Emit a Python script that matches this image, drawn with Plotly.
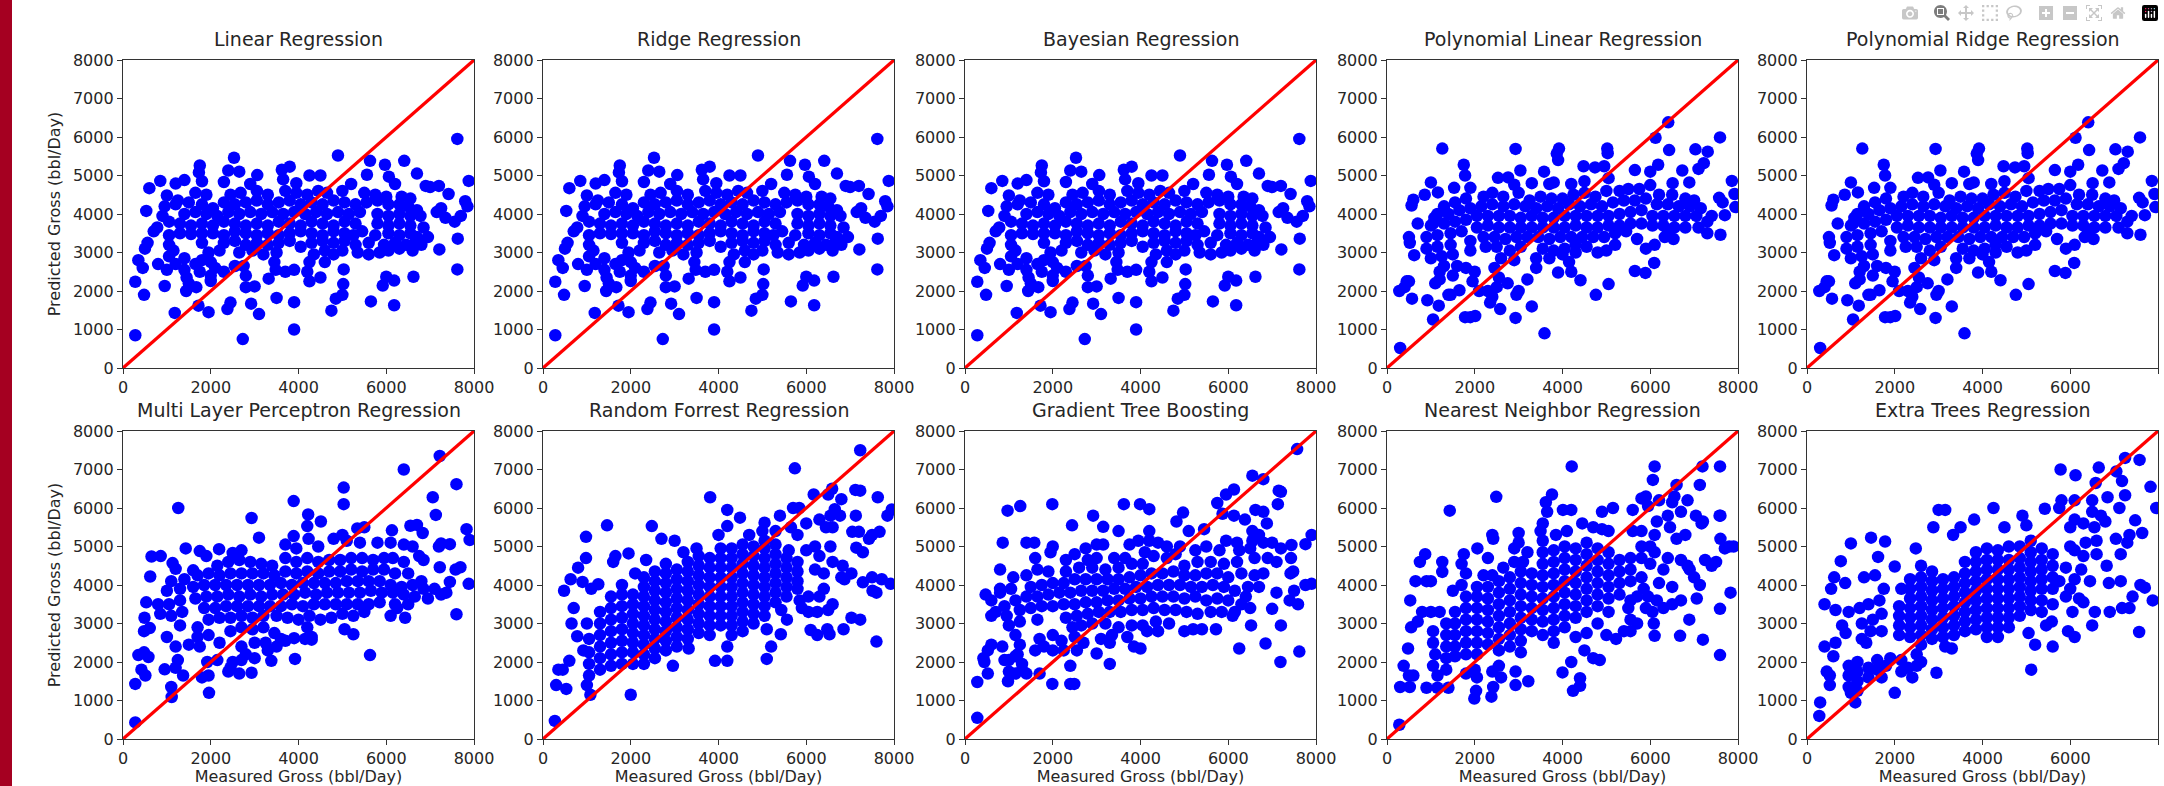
import plotly.graph_objects as go

W, H = 2164, 786
panel_lefts = [123, 543, 965, 1387, 1807]
panel_width = 351
row_tops = [60, 431]
panel_height = 308

linear_points = [
(7620,5950),(4900,5520),(2530,5460),(5630,5380),(5970,5280),(6410,5380),(1750,5260),(1730,5080),(2400,5130),(2650,5100),(3620,5150),(3800,5230),(3060,5010),(6700,5050),(7880,4860),(5560,5020),(6060,4970),(6200,4780),(850,4860),(600,4670),(1200,4790),(1400,4880),(1800,4850),(2300,4830),(4250,5000),(4500,5000),(3650,4900),(3950,4800),(2900,4780),(5200,4780),(7200,4730),(6900,4730),(7000,4700),(7420,4520),(7800,4330),(7850,4200),(530,4080),(7700,3950),(7560,3800),(7630,3360),(7210,3080),(6950,3400),(6800,3200),(7620,2560),(6620,2370),(6180,2270),(6000,2370),(5920,2140),(5030,2560),(5020,2180),(5000,1900),(4850,1800),(5650,1730),(6180,1630),(4750,1490),(3500,1820),(3900,1710),(2450,1700),(2380,1530),(1950,1450),(1720,1620),(1180,1430),(2920,1670),(3100,1400),(280,850),(2730,750),(3900,1000),(480,1900),(280,2240),(950,2130),(1440,2000),(1670,2100),(1500,2200),(2000,2260),(2800,2100),(3000,2120),(4250,2250),(4500,2350),(3320,2320),(3480,2550),(3700,2500),(3900,2550),(4200,2500),(2300,2500),(2550,2650),(2000,2400),(350,2800),(450,2600),(800,2700),(1000,2550),(1400,2850),(1650,2700),(500,3100),(560,3250),(700,3550),(1050,2900),
(1000,4480),(1250,4350),(1650,4550),(1900,4500),(2450,4500),(2680,4550),(3050,4600),(3300,4500),(3700,4600),(3950,4550),(4200,4500),(4450,4600),(4650,4550),(5000,4600),(5500,4550),(5750,4500),(6000,4450),(6350,4450),(6550,4400),
(950,4200),(1200,4250),(1500,4300),(1800,4250),(2050,4150),(2300,4300),(2550,4250),(2800,4300),(3050,4350),(3300,4250),(3550,4300),(3800,4350),(4050,4250),(4300,4300),(4550,4250),(4800,4350),(5050,4300),(5300,4250),(5550,4300),(5800,4350),(6050,4250),(6300,4250),(6500,4200),(6700,4100),
(900,3950),(1400,4000),(1650,4050),(1900,4000),(2150,3950),(2400,4050),(2650,4000),(2900,4050),(3150,4000),(3400,4050),(3650,4000),(3900,4050),(4150,4000),(4400,4050),(4650,4000),(4900,4050),(5150,4000),(5400,4050),(5800,4000),(6050,3950),(6300,4000),(6550,3950),(6780,3950),(7150,4050),(7250,4150),(7350,3900),
(780,3650),(1050,3800),(1300,3750),(1550,3700),(1800,3750),(2050,3700),(2300,3800),(2550,3750),(2800,3700),(3050,3750),(3300,3700),(3550,3800),(3800,3750),(4050,3700),(4300,3800),(4550,3750),(4800,3700),(5050,3800),(5300,3750),(5800,3750),(6050,3700),(6300,3750),(6550,3700),(6850,3650),
(1050,3450),(1300,3500),(1550,3480),(1800,3500),(2050,3500),(2300,3450),(2550,3550),(2800,3500),(3050,3450),(3300,3500),(3550,3450),(3800,3500),(4050,3550),(4300,3500),(4550,3450),(4800,3550),(5050,3500),(5250,3450),(5450,3550),(5750,3450),(6050,3500),(6300,3450),(6550,3500),(6700,3400),
(1050,3200),(1150,3050),(1800,3250),(2300,3250),(2550,3300),(2800,3200),(3050,3250),(3300,3200),(3550,3250),(3800,3300),(4050,3150),(4300,3250),(4550,3300),(4800,3250),(5050,3300),(5300,3200),(5600,3250),(5950,3200),(6200,3250),(6450,3200),(6650,3250),
(1950,3000),(2200,3050),(2650,3000),(2950,3050),(3200,2950),(3500,3000),(4350,2950),(4600,3050),(4800,2950),(5000,3050),(5350,3000),(5600,2950),(5850,3000),(6050,3050),(6300,3100),(6600,3050),(3450,2750),(1800,2800),(2100,2600),(2800,2400),(2750,2650),(1200,2700),(1400,2550),(1750,2500),(1450,2350),(4600,2750),(4250,2750),(2000,2750),
]
ridge_points = linear_points
bayesian_points = linear_points

poly_linear_points = [
(1260,5700),(2930,5690),(3920,5700),(3870,5570),(3900,5400),(5020,5700),(5030,5580),(6410,6380),(6120,5980),(6430,5660),(7590,5990),(7030,5680),(7310,5620),(7220,5320),(7100,5170),(1750,5280),(1780,5000),(3040,5130),(3580,5100),(2530,4940),(2760,4950),(4480,5240),(4740,5210),(4950,5240),(5050,4930),(5650,5140),(6180,5280),(6000,5100),(6730,5130),(6890,4820),(6510,4800),(7860,4860),(7920,4520),(7570,4420),(7650,4300),(7940,4180),(7700,3970),(7600,3460),(7300,3500),(1900,4680),(1530,4680),(1000,4820),(1160,4560),(860,4500),(600,4370),(560,4220),(2900,4760),(3300,4800),(3700,4780),(3800,4820),(4200,4780),(4500,4850),(500,3400),(520,3250),(620,2930),(700,3750),(1050,3750),(1080,3900),(450,2250),(500,2250),(280,2000),(400,2100),(570,1800),(920,1760),(1180,1620),(1050,1260),(1780,1320),(1900,1320),(2010,1350),(2930,1300),(3300,1600),(3590,900),(4760,1900),(5050,2180),(4410,2280),(4200,2500),(3900,2480),(5650,2520),(5890,2470),(6090,2730),(2580,1530),(2350,1700),(300,520),(2950,1900),(3000,2000),(2750,2200),(2400,1850),(3200,2300),(1400,1900),(1450,1900),(1650,2020),(1100,2200),(1200,2500),(2100,2000),(2300,2000),(2500,2100),(2450,2600),(3400,2600),(2000,2500),(5900,3100),(5700,3350),(6100,3200),(6330,3400),(6530,3350),(5200,3200),(4800,3000),(5000,3050),(4300,3000),(4150,2750),
(1300,4200),(1550,4300),(1800,4400),(2200,4450),(2400,4550),(2650,4450),(3000,4550),(3250,4350),(3500,4450),(3750,4400),(4000,4400),(4250,4500),(4500,4550),(4750,4450),(5000,4600),(5300,4600),(5500,4650),(5750,4650),(6000,4750),(6200,4500),(6500,4500),(6800,4400),(7000,4350),
(1150,4000),(1400,4000),(1650,4100),(1900,4150),(2150,4200),(2400,4250),(2650,4200),(2900,4250),(3150,4200),(3400,4150),(3650,4200),(3900,4150),(4150,4250),(4400,4200),(4650,4250),(4900,4200),(5150,4300),(5400,4350),(5650,4350),(5900,4400),(6150,4250),(6400,4250),(6650,4200),(6900,4200),(7150,4150),(7400,3950),
(1000,3700),(1300,3750),(1550,3800),(1800,3850),(2050,3950),(2300,3950),(2550,3950),(2800,3950),(3050,3900),(3300,3950),(3550,3900),(3800,3900),(4050,3950),(4300,3950),(4550,3950),(4800,3950),(5050,3950),(5300,4000),(5550,4050),(5800,4100),(6050,3950),(6300,3950),(6550,3950),(6800,3950),(7050,3950),(7300,3800),
(900,3400),(1150,3450),(1450,3500),(1700,3550),(2050,3650),(2300,3700),(2550,3650),(2800,3650),(3050,3650),(3300,3650),(3550,3650),(3800,3650),(4050,3650),(4300,3700),(4550,3650),(4800,3650),(5050,3700),(5300,3700),(5550,3750),(5800,3750),(6050,3700),(6300,3700),(6550,3650),(6800,3650),(7100,3650),
(900,3100),(1150,3150),(1450,3200),(1900,3300),(2200,3400),(2450,3400),(2700,3350),(2950,3400),(3200,3400),(3450,3400),(3700,3350),(3950,3400),(4200,3400),(4450,3400),(4700,3400),(4950,3400),(5200,3500),(5450,3550),(6400,3600),
(1000,2850),(1250,2900),(1500,2950),(1900,3050),(2250,3150),(2500,3150),(2800,3050),(3050,3150),(3550,3100),(3800,3050),(4050,3100),(4300,3200),(4550,3150),(1200,2300),(1500,2400),(1800,2600),(1600,2650),(2600,2850),(2900,2800),(3400,2850),(3700,2850),(4000,2950),(1300,2650),(1950,2250),(2550,2350),
]
poly_ridge_points = poly_linear_points

mlp_points = [
(7220,7350),(6400,7000),(5030,6530),(5030,6100),(7600,6620),(7060,6280),(7130,5820),(3890,6180),(1260,6000),(2930,5740),(4220,5830),(4200,5530),(4510,5650),(3100,5230),(3890,5270),(4230,5200),(5340,5470),(5500,5500),(6130,5420),(6550,5540),(6700,5560),(6830,5350),(7830,5450),(7900,5170),(7200,5000),(7250,5080),(7450,5060),(6850,4650),(7220,4460),(7690,4460),(7580,4400),(7450,4080),(7880,4030),(7370,3800),(7600,3240),(6430,3150),(6100,3200),(6250,3400),(5250,2720),(5050,2850),(5630,2180),(3920,2080),(3380,2030),(2930,1720),(1960,1200),(1100,1350),(1110,1090),(280,1430),(280,430),(1370,1650),(1200,1850),(950,1810),(1250,2050),(420,1800),(510,1650),(350,2180),(480,2250),(580,2130),(480,2800),(610,2880),(490,3150),(530,3550),(620,4220),(650,4740),(860,4750),(1130,4570),(1200,4420),(1430,4950),(1750,4880),(1900,4750),(2190,4930),(2700,4900),(2500,4830),(1600,4380),(2500,2000),(2650,1700),(2400,1750),(1950,1650),(1800,1600),(1920,2000),(2150,2050),(2450,1850),(2700,2050),(3000,2100),(2800,2200),(3300,2300),(3500,2400),(3600,2600),(3900,2620),(4150,2600),(4300,2580),
(3700,5050),(3950,4950),(4450,5000),(4800,5200),(5100,5150),(5400,5100),(5800,5100),(6100,5100),(6400,5050),(6600,5000),(6750,4750),(5000,5300),
(2150,4500),(2400,4600),(2650,4650),(2900,4600),(3150,4550),(3400,4500),(3700,4700),(3950,4600),(4200,4700),(4450,4600),(4700,4650),(4950,4650),(5200,4700),(5450,4700),(5700,4650),(5950,4700),(6150,4700),(6400,4600),
(1100,4100),(1400,4150),(1700,4250),(1950,4300),(2200,4250),(2450,4300),(2700,4300),(2950,4300),(3200,4300),(3450,4250),(3700,4350),(3950,4300),(4200,4350),(4450,4300),(4700,4350),(4950,4350),(5200,4400),(5450,4350),(5700,4400),(5950,4400),(6200,4300),(6500,4300),(6800,4100),
(1000,3850),(1300,3900),(1600,3950),(1850,4000),(2100,4000),(2350,4000),(2600,4000),(2850,4000),(3100,4000),(3350,4000),(3600,4050),(3850,4000),(4100,4050),(4350,4050),(4600,4050),(4850,4050),(5100,4100),(5350,4100),(5600,4100),(5850,4100),(6100,4000),(6350,3950),(6600,4000),(6850,3900),(7100,3900),(7250,3750),
(800,3500),(1050,3500),(1300,3600),(1650,3650),(1900,3700),(2150,3700),(2400,3750),(2650,3700),(2900,3750),(3150,3700),(3400,3750),(3650,3750),(3900,3750),(4150,3800),(4400,3750),(4650,3800),(4900,3800),(5150,3800),(5400,3800),(5650,3850),(5900,3800),(6150,3800),(6400,3750),(6650,3700),(6950,3650),
(850,3250),(1100,3200),(1350,3300),(1850,3400),(2100,3400),(2350,3450),(2600,3450),(2850,3450),(3100,3450),(3350,3450),(3600,3450),(3850,3500),(4100,3450),(4350,3500),(4600,3500),(4850,3500),(5100,3500),(5350,3500),(5600,3500),(5850,3550),(6200,3500),(6500,3500),
(1300,2950),(1700,2900),(1950,3100),(2200,3150),(2450,3150),(2700,3200),(2950,3150),(3200,3200),(3500,3200),(3750,3150),(4000,3100),(4250,3200),(4500,3100),(4750,3150),(5000,3250),(5250,3200),(5500,3300),
(1000,2650),(1200,2400),(1500,2450),(1700,2650),(1950,2700),(2200,2500),(2450,2800),(2700,2900),(2950,2850),(3200,2900),(3450,2750),(4200,2900),(4300,2650),(3700,2550),(2700,2400),(3000,2500),(3250,2500),(1750,2400),
]

forest_points = [
(7230,7500),(5740,7030),(3810,6280),(4200,5950),(4490,5750),(2480,5530),(1460,5550),(980,5250),(7630,6280),(7230,6450),(7120,6470),(6590,6500),(6170,6350),(6500,6350),(6800,6230),(7130,5800),(7950,5960),(7850,5800),(7200,5380),(7050,5380),(7500,5300),(7670,5380),(7430,5200),(6650,5970),(6550,5800),(6770,5800),(6450,5500),(5840,6000),(5700,6000),(5400,5800),(5050,5620),(4700,5300),(4200,5530),(4000,5300),(2700,5200),(3000,5150),(3200,4850),(3500,4950),(980,4700),(800,4450),(1650,4750),(1950,4820),(1600,4600),(2100,4300),(2350,4650),(630,4150),(480,3850),(900,4080),(1260,4020),(1100,3900),(700,3400),(650,3000),(780,2670),(1000,3000),(920,2300),(600,2030),(450,1800),(350,1800),(300,1400),(530,1300),(1000,1400),(1080,1150),(270,470),(2000,1150),(2960,1900),(3920,2030),(4200,2030),(5100,2080),(5200,2400),(4200,2400),(3320,2350),(5420,2720),(5100,2850),(5560,3100),(5430,3350),(6100,2830),(6250,2700),(6480,2850),(6530,2720),(6850,2850),(7600,2530),(7030,3150),(7230,3100),(6500,3350),(6600,3500),(6250,3300),(6050,3300),(5900,3400),(5850,3600),(6050,3700),(6300,3700),(6400,3900),(6830,4500),(7030,4300),(7140,4970),(7290,4850),(6870,4150),(7290,4070),(7510,3850),(7600,3800),(7720,4150),(7920,4030),(7500,4200),(6200,5000),(6550,5000),(5800,5300),
(6000,5600),(6300,5700),(6600,5500),(5650,5500),(5300,5400),(5000,5400),(6000,4900),(5600,4900),(6300,4750),(6600,4600),(6800,4200),(6200,4400),(6400,4300),
(1050,1650),(1050,1950),(1050,2250),(1050,2600),(1300,1800),(1300,2100),(1300,2400),(1300,2700),(1300,3000),(1300,3300),(1550,1900),(1550,2200),(1550,2500),(1550,2800),(1550,3100),(1550,3400),(1550,3700),(1800,1950),(1800,2250),(1800,2550),(1800,2850),(1800,3150),(1800,3450),(1800,3750),(1800,4000),
(2050,1950),(2050,2250),(2050,2500),(2050,2750),(2050,3000),(2050,3250),(2050,3500),(2050,3750),(2300,1950),(2300,2200),(2300,2450),(2300,2700),(2300,2950),(2300,3200),(2300,3450),(2300,3700),(2300,3950),(2300,4200),(2550,2100),(2550,2350),(2550,2600),(2550,2850),(2550,3100),(2550,3350),(2550,3600),(2550,3850),(2550,4100),(2550,4350),
(2800,2300),(2800,2550),(2800,2800),(2800,3050),(2800,3300),(2800,3550),(2800,3800),(2800,4050),(2800,4300),(2800,4550),(3050,2400),(3050,2650),(3050,2900),(3050,3150),(3050,3400),(3050,3650),(3050,3900),(3050,4150),(3050,4400),(3300,2600),(3300,2850),(3300,3100),(3300,3350),(3300,3600),(3300,3850),(3300,4100),(3300,4350),(3300,4600),
(3550,2750),(3550,3000),(3550,3250),(3550,3500),(3550,3750),(3550,4000),(3550,4250),(3550,4500),(3550,4750),(3800,2700),(3800,2950),(3800,3200),(3800,3450),(3800,3700),(3800,3950),(3800,4200),(3800,4450),(3800,4700),(4050,2950),(4050,3200),(4050,3450),(4050,3700),(4050,3950),(4050,4200),(4050,4450),(4050,4700),(4050,4950),
(4300,2700),(4300,2950),(4300,3200),(4300,3450),(4300,3700),(4300,3950),(4300,4200),(4300,4450),(4300,4700),(4300,4950),(4550,2800),(4550,3050),(4550,3300),(4550,3550),(4550,3800),(4550,4050),(4550,4300),(4550,4550),(4550,4800),(4550,5050),(4800,3000),(4800,3250),(4800,3500),(4800,3750),(4800,4000),(4800,4250),(4800,4500),(4800,4750),(4800,5000),
(5050,3200),(5050,3450),(5050,3700),(5050,3950),(5050,4200),(5050,4450),(5050,4700),(5050,4950),(5050,5150),(5300,3550),(5300,3800),(5300,4050),(5300,4300),(5300,4550),(5300,4800),(5300,5050),(5550,3700),(5550,3950),(5550,4200),(5550,4450),(5550,4700),(5800,3900),(5800,4100),(5800,4350),(5800,4600),
]

boosting_points = [
(7570,7530),(6550,6840),(6800,6750),(7200,6420),(7150,6450),(7130,6100),(6130,6480),(5950,6350),(5750,6130),(3620,6100),(3990,6100),(4200,5970),(1990,6100),(1260,6050),(970,5930),(2920,5800),(2440,5550),(3150,5510),(3500,5400),(4200,5400),(4970,5880),(4820,5650),(5100,5400),(5450,5450),(5870,5850),(6130,5800),(6380,5700),(6620,5950),(6800,5900),(6880,5600),(6550,5400),(6700,5300),(7900,5300),(7760,5060),(7440,5040),(7200,4950),(7000,5100),(7430,4700),(7100,4600),(6900,4700),(7420,4300),(7480,4350),(7900,4030),(7760,4000),(7500,3850),(7100,3800),(7400,3600),(7590,3500),(7000,3380),(7200,2950),(6520,2950),(6100,3200),(6500,3400),(5720,2850),(5400,2850),(5200,2850),(5000,2800),(6250,2350),(6850,2480),(7190,2000),(7620,2270),(3300,1950),(3000,2220),(2400,1430),(2490,1430),(1990,1430),(1700,1700),(2400,1900),(280,1480),(280,550),(520,1700),(440,2000),(420,2100),(520,2300),(600,2450),(850,2400),(980,1500),(1000,1750),(900,2050),(1200,2200),(1400,1700),(1150,1700),(1800,2400),(1600,2300),(600,3200),(470,3750),(600,3600),(800,3900),(800,4400),(860,5100),(1400,5100),(1580,5100),(2000,5000),(1950,4850),(1600,4700),(2300,4650),(2500,4800),(2750,4950),(3000,5050),(3150,5050),(3750,5050),(3950,5150),(4200,5150),(4400,5100),(4600,5000),(4900,5000),(4800,4800),(5500,5000),(5950,5150),(6200,5100),(6550,5150),(6800,5100),(6200,4600),(6600,4700),
(6250,4900),(6500,4950),(5800,4900),(5250,4900),(3400,4700),(3650,4700),(4100,4850),(3000,4700),(2800,4650),
(1100,4200),(1400,4250),(1650,4400),(1900,4350),(2300,4350),(2600,4450),(2900,4450),(3200,4400),(3500,4450),(3800,4550),(4050,4550),(4300,4750),(4600,4700),(5000,4500),(5300,4600),(5600,4600),(5900,4550),(6300,4300),(6600,4250),(6800,4300),
(800,3800),(1050,3900),(1500,3950),(1750,4000),(2000,4050),(2250,4050),(2500,4150),(2750,4150),(3000,4150),(3250,4150),(3500,4150),(3750,4200),(4000,4250),(4250,4300),(4500,4300),(4750,4350),(5000,4250),(5250,4250),(5500,4300),(5750,4300),(6000,4200),(6450,3950),(6700,3950),
(900,3450),(1150,3600),(1400,3700),(1650,3700),(1900,3750),(2150,3800),(2400,3800),(2650,3850),(2900,3850),(3150,3850),(3400,3900),(3650,3900),(3900,3950),(4150,3950),(4400,4000),(4650,4000),(4900,4000),(5150,3950),(5400,3950),(5650,4000),(5900,3950),(6150,3850),(6400,3700),
(700,3300),(950,3200),(1250,3350),(1500,3400),(1750,3450),(2000,3450),(2250,3500),(2500,3500),(2750,3550),(3000,3550),(3250,3600),(3500,3600),(3750,3650),(4000,3650),(4250,3700),(4500,3700),(4750,3700),(5000,3650),(5250,3700),(5500,3600),(5750,3650),(6000,3600),(6300,3500),
(1000,2950),(1250,3050),(1650,3100),(2300,3150),(2550,3200),(2800,3250),(3050,3300),(3300,3300),(3550,3300),(3800,3350),(4050,3350),(4300,3400),(4550,3350),(4800,3350),(5050,3300),(5300,3250),(5600,3300),(5850,3300),(6150,3300),
(1150,2700),(1250,2450),(1150,2150),(1300,1950),(1700,2600),(2000,2700),(2200,2550),(2450,2900),(2650,2950),(2900,3000),(3200,3000),(3500,2900),(3800,2950),(4050,2950),(4350,3050),(4650,3000),(4150,2800),(4400,2800),(2500,2650),(2700,2500),(2000,2300),(2250,2300),(2550,2300),(3100,2600),(3300,2500),(3350,2700),(3700,2650),(3850,2400),(4000,2350),(1000,2050),(1300,1800),
]

neighbor_points = [
(4210,7080),(6100,7080),(7190,7080),(7590,7080),(6060,6730),(7130,6600),(6600,6600),(2490,6290),(1430,5930),(3760,6350),(3620,6150),(4010,5950),(4200,5950),(5150,6000),(4900,5900),(5900,6300),(5800,6250),(6200,6200),(5600,5950),(6850,6200),(6700,5900),(7040,5800),(7200,5650),(7600,5800),(7170,5600),(6800,5300),(7580,5800),(3000,5350),(2420,5200),(2400,5300),(1750,4800),(2060,4950),(2300,4700),(870,4800),(750,4600),(1260,4600),(1260,4340),(650,4100),(900,4100),(1000,4100),(530,3600),(1000,3300),(1200,3300),(800,3300),(550,2900),(700,3050),(480,2350),(380,1900),(500,1650),(600,1650),(300,1350),(520,1350),(900,1330),(1150,1330),(1400,1330),(280,370),(1990,1050),(2030,1250),(2380,1100),(2420,1350),(2930,1400),(3220,1500),(2930,1750),(4000,1730),(4240,1250),(4400,1380),(4400,1580),(2600,1600),(2400,1750),(2050,1600),(2000,1800),(2550,1900),(1800,1700),(4200,2000),(4700,2100),(4850,2050),(4500,2300),(5220,2600),(5000,2700),(6100,2680),(6680,2680),(7200,2580),(7590,2180),(7590,3380),(6890,3100),(7060,3650),(7830,3800),(7130,4000),(7000,4200),(6900,4400),(7400,4500),(7500,4600),(7250,4650),(7900,5000),(7600,5200),(7700,4950),(7800,5000),(5400,2800),(5550,2800),(5700,3000),(5500,3400),(6080,3000),(6050,3300),(6300,3400),(6500,3500),(6700,3600),
(3650,5900),(3550,5600),(3500,5400),(3550,5150),(3850,5300),(4100,5400),(4450,5600),(4700,5500),(4900,5450),(5050,5400),(6400,5800),(6150,5650),(6450,5500),(6600,5200),(5800,5400),(6100,5300),(5600,5400),(6500,6150),(6550,6300),(5950,6050),(3000,5100),(2900,4950),(3200,4850),
(6700,4650),(6400,4700),(6100,4850),(6850,4500),(6000,4550),(6300,4400),(6200,4050),(6500,3950),(5850,3900),(6150,3600),(5950,3700),(1700,4550),(1800,4300),(1700,4000),(1500,3850),(2200,4250),(2400,4250),(2650,4450),(2900,4600),(3100,4600),(1800,3700),
(1050,2800),(1050,2500),(1100,2200),(1050,1900),(1150,1650),(1350,3000),(1350,2700),(1350,2400),(1350,2100),(1350,1800),(1550,3300),(1550,3000),(1550,2700),(1550,2400),(1550,2150),(1800,3400),(1800,3100),(1800,2800),(1800,2500),(1800,2200),(2050,3700),(2050,3400),(2050,3100),(2050,2800),(2050,2500),(2050,2200),(2050,3950),(2300,3950),(2300,3650),(2300,3350),(2300,3050),(2300,2750),(2300,2450),
(2550,4100),(2550,3800),(2550,3500),(2550,3200),(2550,2900),(2550,2600),(2550,2300),(2800,4200),(2800,3900),(2800,3600),(2800,3300),(2800,3000),(2800,2700),(2800,2400),(3050,4350),(3050,4050),(3050,3750),(3050,3450),(3050,3150),(3050,2850),(3050,2550),(3050,2250),(3300,4300),(3300,4000),(3300,3700),(3300,3400),(3300,3100),(3300,2800),(3550,4850),(3550,4550),(3550,4250),(3550,3950),(3550,3650),(3550,3350),(3550,3050),(3550,2700),
(3800,4900),(3800,4600),(3800,4300),(3800,4000),(3800,3700),(3800,3400),(3800,3100),(3800,2800),(3800,2500),(4050,5000),(4050,4700),(4050,4400),(4050,4100),(4050,3800),(4050,3500),(4050,3200),(4050,2900),(4300,4950),(4300,4650),(4300,4350),(4300,4050),(4300,3750),(4300,3450),(4300,3150),(4300,2650),(4550,5100),(4550,4800),(4550,4500),(4550,4200),(4550,3900),(4550,3600),(4550,3300),(4550,2750),
(4800,4950),(4800,4650),(4800,4350),(4800,4050),(4800,3750),(4800,3450),(4800,3000),(5050,4850),(5050,4550),(5050,4250),(5050,3950),(5050,3650),(5050,3300),(5300,4650),(5300,4350),(5300,4050),(5300,3750),(5550,4700),(5550,4400),(5550,4100),(5550,3600),(5800,5000),(5800,4700),(5800,4200),(6000,5000),(5900,3400),(5550,3100),(5700,3700),
]

extra_trees_points = [
(7250,7300),(7580,7250),(6650,7050),(5780,7000),(6120,6850),(7050,6950),(7180,6700),(7830,6550),(6580,6650),(6850,6280),(7250,6330),(5800,6200),(5750,6000),(5420,5980),(6100,6200),(4250,6000),(3000,5950),(3150,5950),(2880,5500),(3500,5500),(3330,5300),(3810,5700),(4910,5800),(5000,5550),(4500,5500),(7960,6000),(7120,6000),(7480,5680),(7640,5350),(7350,5300),(7300,5100),(7150,4800),(7040,5200),(6830,4500),(6880,4050),(7150,4100),(7600,4000),(7700,3930),(7420,3700),(7880,3600),(7180,3400),(7350,3400),(6900,3300),(6560,3300),(6500,2950),(6050,3300),(6100,2650),(5950,2800),(5600,2400),(5050,2750),(5200,2450),(5110,1800),(7570,2780),(5450,2950),(5580,3050),(1000,5080),(1460,5230),(1780,5130),(1620,4730),(770,4620),(2480,4950),(2000,4480),(620,4200),(550,3900),(870,4050),(1300,4200),(1550,4250),(400,3500),(650,3350),(800,2950),(880,2750),(650,2500),(400,2400),(600,2150),(450,1750),(520,1650),(520,1400),(300,950),(280,600),(1100,950),(1000,1200),(2000,1200),(2950,1720),(2150,1750),(2400,1600),(1700,1600),(2600,2000),(3300,2350),(3150,2400),(2500,2200),
(6500,6200),(6500,5900),(6700,5800),(6800,5650),(6300,5600),(6550,5500),(6100,5700),(6000,5500),(6000,5000),(6350,5100),(6600,5150),(6600,4800),(6300,4750),(6100,4900),(6250,4400),(6450,4100),(6000,3900),(5900,3700),(6200,3650),(6300,3550),
(950,1350),(950,1650),(950,1900),(1150,1250),(1150,1500),(1150,1750),(1150,2000),(1400,1600),(1400,1850),(1600,1800),(1600,2050),(1800,1900),(1900,2100),(2150,2050),(2300,1850),(2500,1900),(950,3300),(1200,3400),(1400,3500),(1650,3600),(1750,3900),(1250,3000),(1250,2600),(1450,2800),(1500,3100),(1700,3250),(1700,2800),(1350,2500),
(2100,2700),(2100,2950),(2100,3200),(2100,3450),(2150,3900),(2350,2650),(2350,2900),(2350,3150),(2350,3400),(2350,3650),(2350,3900),(2350,4150),(2600,2450),(2600,2700),(2600,2950),(2600,3200),(2600,3450),(2600,3700),(2600,3950),(2600,4200),(2600,4500),(2850,2600),(2850,2850),(2850,3100),(2850,3350),(2850,3600),(2850,3850),(2850,4100),(2850,4350),(3100,2650),(3100,2900),(3100,3150),(3100,3400),(3100,3650),(3100,3900),(3100,4150),(3350,2700),(3350,2950),(3350,3200),(3350,3450),(3350,3700),(3350,3950),(3350,4200),
(3600,2800),(3600,3050),(3600,3300),(3600,3550),(3600,3800),(3600,4050),(3600,4300),(3600,4600),(3850,2850),(3850,3100),(3850,3350),(3850,3600),(3850,3850),(3850,4100),(3850,4350),(3850,4600),(3850,4850),(4100,2650),(4100,2900),(4100,3150),(4100,3400),(4100,3650),(4100,3900),(4100,4150),(4100,4400),(4100,4650),(4100,4950),(4350,2650),(4350,2900),(4350,3150),(4350,3400),(4350,3650),(4350,3900),(4350,4150),(4350,4400),(4350,4650),(4350,4900),
(4600,2900),(4600,3150),(4600,3400),(4600,3650),(4600,3900),(4600,4150),(4600,4400),(4600,4650),(4600,5000),(4850,3200),(4850,3450),(4850,3700),(4850,3950),(4850,4200),(4850,4450),(4850,4700),(4850,5000),(5100,3350),(5100,3600),(5100,3850),(5100,4100),(5100,4350),(5100,4600),(5100,4850),(5100,5150),(5350,3300),(5350,3600),(5350,3900),(5350,4150),(5350,4400),(5350,4650),(5350,4950),(5600,3500),(5600,3900),(5600,4200),(5600,4500),(5600,4800),(5750,4100),(5900,4450),(6100,4150),
]

panel_titles = [
    "Linear Regression", "Ridge Regression", "Bayesian Regression",
    "Polynomial Linear Regression", "Polynomial Ridge Regression",
    "Multi Layer Perceptron Regression", "Random Forrest Regression",
    "Gradient Tree Boosting", "Nearest Neighbor Regression", "Extra Trees Regression",
]
panel_points = [
    linear_points, ridge_points, bayesian_points, poly_linear_points, poly_ridge_points,
    mlp_points, forest_points, boosting_points, neighbor_points, extra_trees_points,
]
identity_line = [0, 8000]
tick_values = [0, 2000, 4000, 6000, 8000]
y_tick_values = [0, 1000, 2000, 3000, 4000, 5000, 6000, 7000, 8000]
x_label = "Measured Gross (bbl/Day)"
y_label = "Predicted Gross (bbl/Day)"

FONT = "DejaVu Sans"
INK = "#262626"
fig = go.Figure()
annotations = []

for i, (title, points) in enumerate(zip(panel_titles, panel_points)):
    row, col = i // 5, i % 5
    n = i + 1
    suffix = "" if n == 1 else str(n)
    left, top = panel_lefts[col], row_tops[row]
    axis_common = dict(
        range=[0, 8000], showgrid=False, zeroline=False, mirror=True, showline=True,
        linecolor="#333333", linewidth=1.3, ticks="outside", ticklen=5, tickwidth=1.3,
        tickcolor="#333333", tickfont=dict(family=FONT, size=16, color=INK), automargin=False,
    )
    fig.update_layout({
        f"xaxis{suffix}": dict(
            axis_common, anchor=f"y{suffix}", tickvals=tick_values,
            domain=[left / W, (left + panel_width) / W],
            title=dict(text=x_label if row == 1 else "", standoff=6,
                       font=dict(family=FONT, size=16, color=INK)),
        ),
        f"yaxis{suffix}": dict(
            axis_common, anchor=f"x{suffix}", tickvals=y_tick_values,
            domain=[1 - (top + panel_height) / H, 1 - top / H],
            title=dict(text=y_label if i in (0, 5) else "", standoff=8,
                       font=dict(family=FONT, size=16, color=INK)),
        ),
    })
    fig.add_trace(go.Scatter(
        x=[p[0] for p in points], y=[p[1] for p in points], mode="markers",
        marker=dict(color="#0000ff", size=12.5, line=dict(width=0)),
        xaxis=f"x{suffix}", yaxis=f"y{suffix}", showlegend=False, hoverinfo="skip",
    ))
    fig.add_trace(go.Scatter(
        x=identity_line, y=identity_line, mode="lines",
        line=dict(color="#ff0000", width=3.2),
        xaxis=f"x{suffix}", yaxis=f"y{suffix}", showlegend=False, hoverinfo="skip",
    ))
    annotations.append(dict(
        text=title, xref="paper", yref="paper",
        x=(left + panel_width / 2) / W, y=1 - top / H, yshift=8,
        xanchor="center", yanchor="bottom", showarrow=False,
        font=dict(family=FONT, size=19, color=INK),
    ))

fig.update_layout(
    width=W, height=H, margin=dict(l=0, r=0, t=0, b=0),
    paper_bgcolor="white", plot_bgcolor="white", annotations=annotations,
    shapes=[dict(type="rect", xref="paper", yref="paper", x0=0, x1=12 / W, y0=0, y1=1,
                 fillcolor="#a50021", line=dict(width=0), layer="below")],
)
fig.write_html("out.html", post_script="document.body.style.margin='0';document.body.style.overflow='hidden';")
